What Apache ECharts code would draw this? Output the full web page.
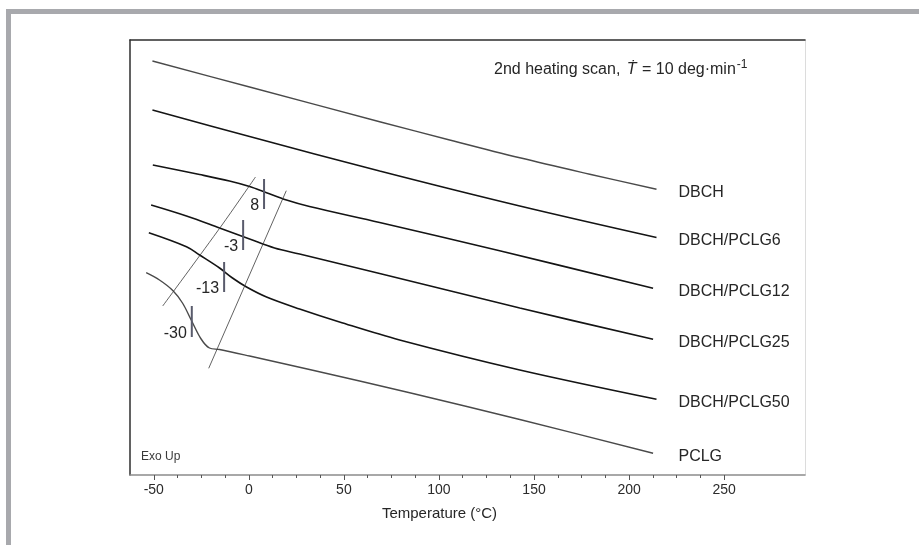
<!DOCTYPE html>
<html>
<head>
<meta charset="utf-8">
<script src="https://cdn.jsdelivr.net/npm/echarts@6/dist/echarts.min.js"></script>
<style>
  html, body { margin: 0; padding: 0; background: #fff; }
  #chart { width: 919px; height: 545px; }
</style>
</head>
<body>
<div id="chart"></div>
<script>
// DSC traces, 2nd heating (temperature in °C, heat flow in arbitrary units, exo up)
const curveNames = ['DBCH', 'DBCH/PCLG6', 'DBCH/PCLG12', 'DBCH/PCLG25', 'DBCH/PCLG50', 'PCLG'];

const dbchT = [-50.7, 0.4, 68.8, 105.6, 142.5, 179.3, 214.4];
const dbchQ = [41.4, 38.8, 35.33, 33.5, 31.72, 30.08, 28.57];

const pclg6T = [-50.7, 0.4, 68.8, 142.5, 214.4];
const pclg6Q = [36.5, 33.85, 30.4, 26.9, 23.75];

const pclg12T = [-50.5, -25.9, -10.2, 0.4, 9.3, 19.8, 31.9, 68.8, 131.9, 212.6];
const pclg12Q = [31.0, 30.05, 29.4, 28.85, 28.23, 27.5, 26.85, 25.25, 22.42, 18.67];

const pclg25T = [-51.4, -32.8, -15.4, 0.4, 13.5, 26.7, 68.8, 142.5, 212.6];
const pclg25Q = [27.0, 25.9, 24.7, 23.6, 22.7, 22.1, 20.15, 16.7, 13.57];

const pclg50T = [-52.6, -32.8, -25.9, -15.4, -8.6, -1.2, 9.3, 26.7, 47.7, 79.3, 142.5, 214.4];
const pclg50Q = [24.23, 22.83, 22.0, 20.7, 19.7, 18.8, 17.8, 16.6, 15.3, 13.5, 10.5, 7.57];

const pclgT = [-54.0, -47.0, -40.0, -34.9, -30.3, -25.1, -20.7, -15.4, 0.4, 31.9, 84.6, 142.5, 212.6];
const pclgQ = [20.23, 19.5, 18.45, 17.2, 15.5, 13.6, 12.7, 12.55, 11.9, 10.55, 8.23, 5.55, 2.17];

// glass transition marks
const tgValues = [8, -3, -13, -30];
const tgLow = [26.6, 22.5, 18.3, 13.8];
const tgHigh = [29.6, 25.5, 21.3, 16.9];

// construction lines through the transitions
const guideLeftT = [-45.3, -14.5, 3.5];
const guideLeftQ = [16.9, 24.9, 29.8];
const guideRightT = [-21.1, 19.7];
const guideRightQ = [10.67, 28.43];

const majorTicks = [-50, 0, 50, 100, 150, 200, 250];
const minorTicks = [-37.5, -25, -12.5, 12.5, 25, 37.5, 62.5, 75, 87.5, 112.5, 125, 137.5,
  162.5, 175, 187.5, 212.5, 225, 237.5];

const curveT = [dbchT, pclg6T, pclg12T, pclg25T, pclg50T, pclgT];
const curveQ = [dbchQ, pclg6Q, pclg12Q, pclg25Q, pclg50Q, pclgQ];
const curveColors = ['#4a4a4a', '#141414', '#141414', '#141414', '#141414', '#4a4a4a'];

const font = 'Liberation Sans, Arial, Helvetica, sans-serif';
const textColor = '#262626';
const zip = (xs, ys) => xs.map((x, i) => [x, ys[i]]);

const chart = echarts.init(document.getElementById('chart'));

// labels sit in one column to the right of the traces
const labelColumnT = 214.4;
const pxPerDeg = 1.9;

const series = [];
curveNames.forEach((name, i) => {
  const lastT = curveT[i][curveT[i].length - 1];
  series.push({
    name,
    type: 'line',
    data: zip(curveT[i], curveQ[i]),
    smooth: 0.35,
    showSymbol: false,
    silent: true,
    lineStyle: { color: curveColors[i], width: i === 0 || i === 5 ? 1.4 : 1.6 },
    endLabel: {
      show: true,
      formatter: '{a}',
      distance: 22 + (labelColumnT - lastT) * pxPerDeg,
      offset: [0, 3.5],
      fontFamily: font,
      fontSize: 16,
      color: textColor
    }
  });
});

series.push({
  type: 'line',
  data: zip(guideLeftT, guideLeftQ),
  smooth: 0.3,
  showSymbol: false,
  silent: true,
  lineStyle: { color: '#3a3a3a', width: 0.8 }
});
series.push({
  type: 'line',
  data: zip(guideRightT, guideRightQ),
  showSymbol: false,
  silent: true,
  lineStyle: { color: '#3a3a3a', width: 0.8 }
});

tgValues.forEach((tg, i) => {
  series.push({
    type: 'line',
    data: [[tg, tgLow[i]], [tg, tgHigh[i]]],
    showSymbol: false,
    silent: true,
    lineStyle: { color: '#595b6c', width: 2 }
  });
});

series.push({
  type: 'scatter',
  symbolSize: 0,
  silent: true,
  itemStyle: { opacity: 1 },
  data: tgValues.map((tg, i) => [tg, tgLow[i] + 0.3]),
  label: {
    show: true,
    position: 'left',
    distance: 5,
    formatter: p => String(tgValues[p.dataIndex]),
    fontFamily: font,
    fontSize: 16,
    color: textColor
  }
});

const axisBase = { type: 'value', min: -62.5, max: 292.5, splitLine: { show: false } };

chart.setOption({
  animation: false,
  backgroundColor: '#ffffff',
  grid: { left: 130, right: 114, top: 40, bottom: 70 },
  graphic: [
    { type: 'rect', shape: { x: 6, y: 9, width: 913, height: 5 }, style: { fill: '#a8a9ad' } },
    { type: 'rect', shape: { x: 6, y: 9, width: 5, height: 536 }, style: { fill: '#a8a9ad' } }
  ],
  title: [
    {
      text: '{a|2nd heating scan, }{i|Ṫ}{a| = 10 deg·min}{s|-1}',
      left: 489,
      top: 54,
      textStyle: {
        fontWeight: 'normal',
        rich: {
          a: { fontFamily: font, fontSize: 16, fontWeight: 'normal', color: textColor, lineHeight: 22 },
          i: { fontFamily: font, fontSize: 16, fontWeight: 'normal', color: textColor, fontStyle: 'italic', lineHeight: 22, padding: [0, 1, 0, 2] },
          s: { fontFamily: font, fontSize: 12, fontWeight: 'normal', color: textColor, verticalAlign: 'top', lineHeight: 22, padding: [0, 0, 10, 1] }
        }
      }
    },
    {
      text: 'Exo Up',
      left: 136,
      top: 446,
      textStyle: { fontFamily: font, fontSize: 12, fontWeight: 'normal', color: '#3a3a3a' }
    }
  ],
  xAxis: [
    Object.assign({}, axisBase, {
      position: 'bottom',
      name: 'Temperature (°C)',
      nameLocation: 'middle',
      nameGap: 31,
      nameTextStyle: { fontFamily: font, fontSize: 15, color: textColor, padding: [0, 56, 0, 0] },
      axisLine: { show: true, onZero: false, lineStyle: { color: '#8c8c8c', width: 1.5 } },
      axisTick: { show: true, length: 5, customValues: majorTicks, lineStyle: { color: '#555', width: 1 } },
      axisLabel: { show: true, margin: 8, customValues: majorTicks, fontFamily: font, fontSize: 14, color: '#2b2b2b' }
    }),
    Object.assign({}, axisBase, {
      position: 'bottom',
      axisLine: { show: false, onZero: false },
      axisTick: { show: true, length: 3, customValues: minorTicks, lineStyle: { color: '#555', width: 1 } },
      axisLabel: { show: false }
    }),
    Object.assign({}, axisBase, {
      position: 'top',
      axisLine: { show: true, onZero: false, lineStyle: { color: '#2e2e2e', width: 1.5 } },
      axisTick: { show: false },
      axisLabel: { show: false }
    })
  ],
  yAxis: [
    {
      type: 'value', min: 0, max: 43.5, position: 'left',
      splitLine: { show: false },
      axisLine: { show: true, onZero: false, lineStyle: { color: '#2e2e2e', width: 1.5 } },
      axisTick: { show: false },
      axisLabel: { show: false }
    },
    {
      type: 'value', min: 0, max: 43.5, position: 'right',
      splitLine: { show: false },
      axisLine: { show: true, onZero: false, lineStyle: { color: '#dcdcdc', width: 1 } },
      axisTick: { show: false },
      axisLabel: { show: false }
    }
  ],
  series
});
</script>
</body>
</html>
